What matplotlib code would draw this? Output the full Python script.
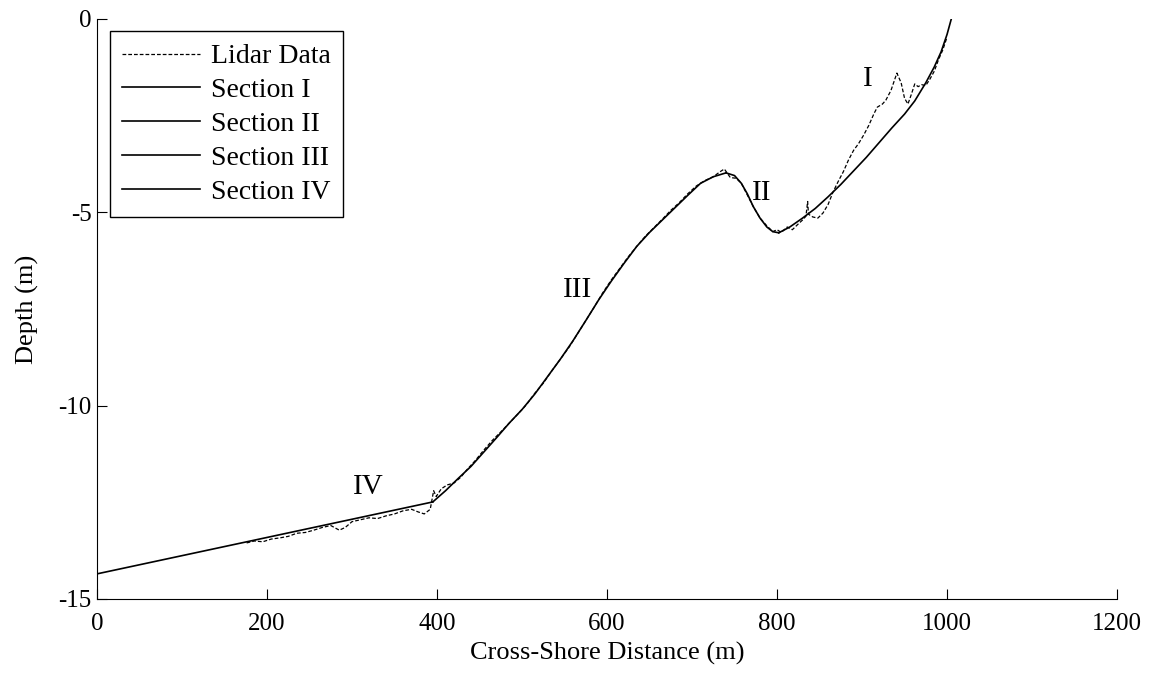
import numpy as np
import matplotlib
matplotlib.use("Agg")
import matplotlib.pyplot as plt

plt.rcParams['font.family'] = ['Liberation Serif', 'DejaVu Serif']
plt.rcParams['axes.unicode_minus'] = False

# Lidar profile
lidar_x = [176, 185, 195, 205, 215, 225, 235, 245, 255, 265, 275, 285, 292, 300,
           310, 320, 330, 340, 350, 360, 370, 378, 385, 392, 396, 399, 405, 412,
           420, 428, 435, 445, 455, 465, 475, 485, 495, 505, 515, 525, 535, 545,
           555, 565, 575, 585, 595, 605, 615, 625, 635, 645, 655, 665, 675, 685,
           695, 705, 715, 725, 733, 738, 745, 752, 758, 765, 772, 780, 788, 795,
           800, 805, 812, 818, 825, 830, 834, 836, 837, 842, 848, 854, 860, 866,
           872, 878, 884, 890, 896, 902, 908, 914, 918, 924, 928, 934, 941, 946,
           950, 954, 958, 962, 966, 970, 975, 980, 985, 990, 995, 1000]
lidar_y = [-13.55, -13.50, -13.52, -13.45, -13.42, -13.38, -13.30, -13.28, -13.22,
           -13.15, -13.10, -13.22, -13.15, -13.00, -12.95, -12.90, -12.92, -12.85,
           -12.80, -12.72, -12.68, -12.75, -12.80, -12.68, -12.20, -12.35, -12.15,
           -12.05, -12.00, -11.85, -11.66, -11.42, -11.15, -10.90, -10.68, -10.45,
           -10.22, -9.98, -9.68, -9.42, -9.10, -8.80, -8.50, -8.15, -7.80, -7.45,
           -7.08, -6.75, -6.45, -6.15, -5.88, -5.62, -5.40, -5.18, -4.95, -4.75,
           -4.52, -4.32, -4.18, -4.08, -3.95, -3.88, -4.10, -4.12, -4.25, -4.55,
           -4.85, -5.15, -5.35, -5.50, -5.45, -5.52, -5.38, -5.45, -5.30, -5.20,
           -5.10, -4.72, -5.05, -5.12, -5.15, -5.02, -4.80, -4.47, -4.20, -3.95,
           -3.65, -3.40, -3.22, -3.00, -2.75, -2.45, -2.28, -2.20, -2.10, -1.85,
           -1.40, -1.65, -2.05, -2.20, -1.95, -1.68, -1.75, -1.70, -1.72, -1.55,
           -1.35, -1.05, -0.80, -0.47]

# Fitted sections
sec1_x = [802, 815, 830, 845, 860, 875, 890, 905, 920, 935, 950, 962, 975, 985, 993, 1000, 1005]
sec1_y = [-5.53, -5.38, -5.15, -4.90, -4.60, -4.28, -3.93, -3.58, -3.20, -2.82, -2.46,
          -2.12, -1.65, -1.24, -0.85, -0.40, 0.0]
sec2_x = [740, 750, 758, 765, 772, 780, 788, 795, 802]
sec2_y = [-3.98, -4.05, -4.25, -4.52, -4.85, -5.15, -5.38, -5.50, -5.53]
sec3_x = [395, 410, 425, 440, 455, 470, 485, 500, 515, 530, 545, 560, 575, 590, 605,
          620, 635, 650, 665, 680, 695, 710, 725, 740]
sec3_y = [-12.49, -12.20, -11.88, -11.57, -11.20, -10.83, -10.45, -10.10, -9.70, -9.25,
          -8.80, -8.32, -7.80, -7.27, -6.78, -6.32, -5.88, -5.52, -5.20, -4.88, -4.56,
          -4.25, -4.08, -3.98]
sec4_x = [0, 395]
sec4_y = [-14.35, -12.49]

section_labels = ['I', 'II', 'III', 'IV']
label_x = [907, 782, 565, 319]
label_y = [-1.55, -4.5, -7.0, -12.1]

fig = plt.figure(figsize=(11.51, 6.75), dpi=100)
ax = fig.add_axes([0.0843, 0.1126, 0.8862, 0.8593])

ax.plot(lidar_x, lidar_y, color='black', lw=0.9, linestyle=(0, (3, 1.6)), label='Lidar Data')
ax.plot(sec1_x, sec1_y, color='black', lw=1.2, label='Section I')
ax.plot(sec2_x, sec2_y, color='black', lw=1.2, label='Section II')
ax.plot(sec3_x, sec3_y, color='black', lw=1.2, label='Section III')
ax.plot(sec4_x, sec4_y, color='black', lw=1.2, label='Section IV')

for s, lx, ly in zip(section_labels, label_x, label_y):
    ax.text(lx, ly, s, fontsize=21, ha='center', va='center')

ax.set_xlim(0, 1200)
ax.set_ylim(-15, 0)
ax.set_xticks(range(0, 1201, 200))
ax.set_yticks([-15, -10, -5, 0])
ax.tick_params(direction='in', length=7, width=0.8, labelsize=18)
ax.tick_params(axis='x', pad=10)
ax.tick_params(axis='y', pad=4)
ax.spines['top'].set_visible(False)
ax.spines['right'].set_visible(False)
ax.set_xlabel('Cross-Shore Distance (m)', fontsize=19, labelpad=5)
ax.set_ylabel('Depth (m)', fontsize=19, labelpad=14)

leg = ax.legend(loc='upper left', fontsize=20, frameon=True, fancybox=False,
                edgecolor='black', framealpha=1, handlelength=2.8,
                handletextpad=0.4, labelspacing=0.3, borderpad=0.45,
                borderaxespad=0.45)
leg.get_frame().set_linewidth(1.0)

fig.savefig('out.png', dpi=100)
